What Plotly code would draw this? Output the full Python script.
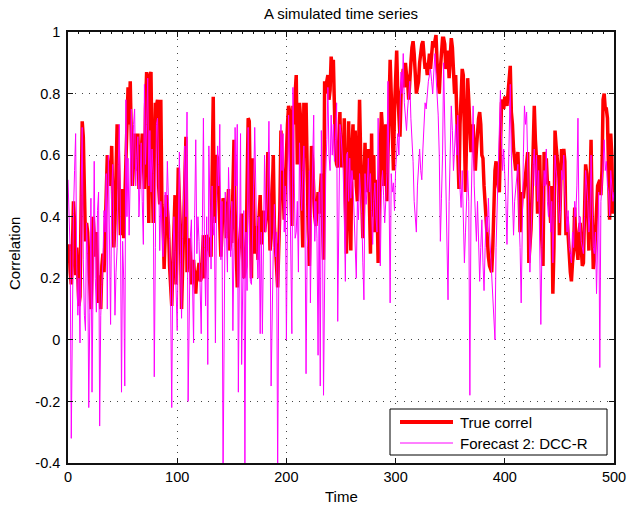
import plotly.graph_objects as go

true_correl = [
0.25,0.31,0.22,0.18,0.28,0.45,0.38,0.21,0.30,0.17,
0.11,0.14,0.55,0.71,0.66,0.40,0.32,0.38,0.35,0.26,
0.17,0.10,0.22,0.40,0.34,0.27,0.35,0.22,0.12,0.21,
0.10,0.24,0.28,0.22,0.36,0.52,0.60,0.55,0.57,0.50,
0.63,0.45,0.30,0.38,0.55,0.70,0.62,0.40,0.34,0.46,
0.49,0.33,0.45,0.62,0.78,0.82,0.70,0.84,0.65,0.50,
0.58,0.67,0.62,0.55,0.67,0.49,0.58,0.60,0.67,0.52,
0.49,0.75,0.87,0.62,0.38,0.86,0.87,0.56,0.38,0.60,
0.77,0.76,0.78,0.50,0.44,0.78,0.44,0.40,0.23,0.34,
0.47,0.42,0.37,0.24,0.16,0.11,0.24,0.38,0.47,0.18,
0.40,0.56,0.45,0.35,0.10,0.22,0.37,0.50,0.66,0.22,
0.30,0.33,0.28,0.18,0.24,0.26,0.20,0.15,0.22,0.22,
0.25,0.19,0.20,0.28,0.34,0.20,0.28,0.34,0.33,0.30,
0.28,0.27,0.55,0.79,0.38,0.50,0.60,0.59,0.50,0.42,
0.27,0.35,0.46,0.45,0.44,0.33,0.40,0.49,0.29,0.32,
0.32,0.48,0.65,0.42,0.30,0.17,0.26,0.32,0.38,0.41,
0.30,0.20,0.22,0.24,0.50,0.72,0.71,0.45,0.20,0.59,
0.45,0.28,0.37,0.30,0.26,0.40,0.47,0.31,0.36,0.42,
0.35,0.38,0.42,0.61,0.45,0.29,0.33,0.45,0.60,0.37,
0.30,0.24,0.17,0.30,0.42,0.68,0.59,0.50,0.39,0.50,
0.63,0.70,0.76,0.74,0.55,0.37,0.76,0.70,0.80,0.86,
0.57,0.62,0.77,0.72,0.45,0.30,0.77,0.65,0.77,0.50,
0.35,0.24,0.45,0.63,0.58,0.44,0.40,0.37,0.42,0.48,
0.41,0.50,0.54,0.40,0.26,0.84,0.80,0.84,0.86,0.78,
0.81,0.92,0.88,0.91,0.67,0.60,0.57,0.56,0.65,0.74,
0.56,0.60,0.56,0.72,0.45,0.28,0.50,0.71,0.44,0.29,
0.62,0.70,0.52,0.68,0.50,0.45,0.60,0.78,0.60,0.48,
0.33,0.50,0.64,0.48,0.58,0.62,0.45,0.28,0.67,0.40,
0.60,0.35,0.52,0.45,0.25,0.48,0.62,0.74,0.68,0.50,
0.65,0.70,0.45,0.60,0.70,0.91,0.80,0.62,0.55,0.75,
0.90,0.94,0.80,0.70,0.66,0.80,0.85,0.88,0.82,0.90,
0.86,0.84,0.78,0.88,0.90,0.95,0.97,0.93,0.86,0.80,
0.82,0.84,0.90,0.94,0.96,0.97,0.92,0.88,0.90,0.86,
0.89,0.93,0.88,0.94,0.97,0.95,0.98,0.99,0.90,0.85,
0.80,0.88,0.93,0.98,0.98,0.96,0.88,0.90,0.94,0.85,
0.92,0.98,0.95,0.86,0.80,0.86,0.70,0.60,0.49,0.70,
0.80,0.88,0.86,0.62,0.48,0.66,0.85,0.78,0.70,0.61,
0.66,0.70,0.61,0.55,0.62,0.68,0.72,0.74,0.70,0.60,
0.59,0.50,0.43,0.38,0.32,0.27,0.24,0.23,0.22,0.30,
0.45,0.55,0.58,0.52,0.50,0.48,0.60,0.77,0.78,0.75,
0.79,0.78,0.76,0.80,0.86,0.89,0.74,0.70,0.62,0.57,
0.55,0.58,0.61,0.50,0.35,0.42,0.48,0.46,0.50,0.55,
0.58,0.61,0.25,0.30,0.36,0.48,0.70,0.76,0.65,0.59,
0.41,0.55,0.60,0.39,0.30,0.24,0.61,0.58,0.59,0.51,
0.51,0.42,0.38,0.50,0.15,0.30,0.68,0.63,0.60,0.55,
0.34,0.48,0.62,0.60,0.62,0.58,0.34,0.40,0.30,0.28,
0.22,0.19,0.25,0.29,0.43,0.32,0.30,0.26,0.35,0.38,
0.30,0.24,0.25,0.45,0.57,0.54,0.40,0.29,0.48,0.65,
0.40,0.23,0.26,0.35,0.46,0.50,0.51,0.52,0.47,0.55,
0.78,0.80,0.75,0.75,0.72,0.55,0.39,0.67,0.60,0.41,
0.45]

forecast_dcc_r = [
0.52,0.35,0.29,-0.32,0.18,0.41,0.55,0.67,0.24,0.08,
0.20,-0.01,0.47,0.69,0.26,0.08,0.03,0.38,0.28,-0.22,
0.09,0.46,-0.17,0.37,0.58,0.20,0.09,0.42,0.48,-0.28,
0.08,0.18,0.26,0.42,0.35,0.54,0.10,0.60,0.30,0.05,
0.48,0.57,0.35,0.08,0.22,0.30,0.57,0.70,0.40,-0.17,
0.32,0.20,-0.15,0.78,0.40,0.59,0.34,0.55,0.75,0.50,
0.70,0.75,0.50,0.59,0.66,0.40,0.58,0.64,0.45,0.31,
0.83,0.57,0.70,0.85,0.50,0.68,0.48,0.62,0.54,-0.12,
0.30,0.70,0.72,0.57,0.29,0.45,0.38,0.27,0.35,0.48,
0.40,0.58,0.45,0.33,0.12,-0.22,0.25,0.40,0.29,0.12,
0.03,0.35,0.61,0.25,0.07,0.33,0.48,0.63,0.40,0.74,
-0.20,0.20,0.33,0.39,0.15,-0.01,0.40,0.65,0.28,0.40,
0.32,0.15,0.02,0.35,0.72,0.30,0.11,0.40,-0.08,0.63,
0.40,0.23,0.50,0.34,0.40,-0.01,0.45,0.63,0.50,0.70,
0.26,0.45,-0.45,0.20,0.48,0.35,0.22,0.56,0.40,0.27,
0.45,0.03,0.30,0.69,0.50,0.70,-0.17,0.26,0.67,-0.08,
0.30,0.42,-0.42,0.35,0.16,0.69,0.40,0.19,0.18,0.30,
0.50,0.69,0.45,0.29,0.20,0.40,0.02,0.35,0.02,0.30,
0.60,0.35,0.44,0.50,0.71,0.40,-0.15,0.16,0.30,0.44,
0.27,0.35,-0.45,0.20,0.37,0.70,0.55,0.67,0.35,0.50,
0.00,0.40,0.73,0.55,0.31,0.02,0.82,0.50,0.33,0.35,
0.45,0.22,0.64,0.50,0.42,0.55,0.63,0.40,-0.11,0.30,
0.36,0.55,0.12,0.40,0.60,0.73,0.32,0.45,0.33,-0.05,
0.48,-0.15,0.68,0.40,-0.18,0.30,0.54,0.65,0.82,0.60,
0.55,0.73,0.60,0.70,0.58,0.65,0.77,0.06,0.50,0.70,
0.67,0.60,0.55,0.40,0.19,0.60,0.61,0.45,0.59,0.46,
0.55,0.51,0.40,0.30,0.20,0.45,0.39,0.54,0.48,0.41,
0.25,0.13,0.54,0.44,0.50,0.59,0.48,0.54,0.42,0.31,
0.45,0.51,0.40,0.35,0.72,0.50,0.24,0.48,0.55,0.47,
0.38,0.45,0.54,0.84,0.40,0.12,0.54,0.48,0.51,0.42,
0.55,0.61,0.67,0.60,0.75,0.87,0.80,0.93,0.77,0.72,
0.68,0.75,0.81,0.84,0.72,0.65,0.58,0.45,0.38,0.35,
0.50,0.59,0.62,0.55,0.52,0.62,0.70,0.77,0.75,0.80,
0.84,0.86,0.88,0.84,0.80,0.87,0.93,0.86,0.80,0.73,
0.60,0.32,0.46,0.60,0.90,0.70,0.50,0.40,0.13,0.45,
0.60,0.76,0.68,0.55,0.62,0.70,0.60,0.73,0.55,0.50,
0.43,0.55,0.40,0.25,0.35,0.48,0.55,0.45,-0.18,0.40,
0.55,0.76,0.50,0.40,0.32,0.45,0.30,0.19,0.30,0.39,
0.25,0.16,0.30,0.40,0.35,0.46,0.35,0.28,0.20,0.15,
0.10,0.00,0.30,0.45,0.60,0.70,0.81,0.65,0.55,0.62,
0.55,0.45,0.31,0.50,0.65,0.83,0.60,0.50,0.34,0.45,
0.50,0.55,0.57,0.40,0.30,0.12,0.40,0.60,0.76,0.70,
0.74,0.50,0.40,0.22,0.35,0.48,0.57,0.62,0.50,0.60,
0.45,0.55,0.35,0.05,0.30,0.40,0.55,0.50,0.62,0.45,
0.40,0.50,0.35,0.45,0.25,0.40,0.60,0.55,0.52,0.45,
0.38,0.42,0.55,0.52,0.60,0.48,0.40,0.35,0.42,0.30,
0.28,0.25,0.35,0.30,0.45,0.40,0.50,0.72,0.35,0.40,
0.32,0.30,0.28,0.40,0.55,0.50,0.45,0.35,0.40,0.60,
0.45,0.30,0.28,0.35,0.15,0.40,0.48,-0.09,0.45,0.50,
0.60,0.65,0.55,0.58,0.50,0.48,0.40,0.55,0.50,0.45,
0.48]

time = list(range(len(true_correl)))

series_names = ["True correl", "Forecast 2: DCC-R"]
x_ticks = [0, 100, 200, 300, 400, 500]
y_ticks = [-0.4, -0.2, 0, 0.2, 0.4, 0.6, 0.8, 1]
y_tick_labels = ["-0.4", "-0.2", "0", "0.2", "0.4", "0.6", "0.8", "1"]

FONT = "Liberation Sans, Arial, sans-serif"
RED = "#ff0000"
MAGENTA = "#ff00ff"

fig = go.Figure()
fig.add_trace(go.Scatter(x=time, y=true_correl, mode="lines", name=series_names[0],
                         line=dict(color=RED, width=3.5), showlegend=False))
fig.add_trace(go.Scatter(x=time, y=forecast_dcc_r[:len(time)], mode="lines",
                         name=series_names[1], line=dict(color=MAGENTA, width=1),
                         showlegend=False))

axis_common = dict(showline=True, linecolor="#111111", linewidth=1.5, mirror="ticks",
                   ticks="inside", ticklen=5, tickcolor="#111111", tickwidth=1,
                   showgrid=True, gridcolor="#444444", griddash="1px,6px", gridwidth=1,
                   zeroline=False, automargin=False,
                   tickfont=dict(family=FONT, size=14.5, color="black"))

fig.update_layout(
    width=627, height=506,
    margin=dict(l=68, r=13, t=32, b=43, autoexpand=False),
    paper_bgcolor="white", plot_bgcolor="white",
    font=dict(family=FONT, size=15, color="black"),
    title=dict(text="A simulated time series", xref="paper", x=0.5, xanchor="center",
               yref="container", y=1 - 14 / 506, yanchor="middle",
               font=dict(family=FONT, size=15)),
    xaxis=dict(range=[0, 500], tickvals=x_ticks, **axis_common),
    yaxis=dict(range=[-0.4, 1], tickvals=y_ticks, ticktext=y_tick_labels,
               ticklabelstandoff=3, **axis_common),
    xaxis2=dict(range=[0, 500], overlaying="x", side="top", showgrid=False,
                showticklabels=False, ticks="inside", dtick=10, ticklen=2,
                tickcolor="#111111", zeroline=False, showline=False, automargin=False),
    showlegend=False,
)
# dummy-free way to activate the top minor-tick axis: attach an invisible copy
fig.add_trace(go.Scatter(x=[time[0], time[-1]], y=[None, None], xaxis="x2",
                         mode="lines", showlegend=False, hoverinfo="skip"))

# axis titles
fig.add_annotation(text="Time", xref="paper", yref="paper", x=0.5, y=-(497 - 463) / 431,
                   xanchor="center", yanchor="middle", showarrow=False,
                   font=dict(family=FONT, size=15))
fig.add_annotation(text="Correlation", xref="paper", yref="paper",
                   x=-(68 - 14) / 546, y=(463 - 254) / 431, textangle=-90,
                   xanchor="center", yanchor="middle", showarrow=False,
                   font=dict(family=FONT, size=15))

# legend box (drawn manually to match sample-line length)
def px_x(p):
    return (p - 68) / 546

def px_y(p):
    return (463 - p) / 431

fig.add_shape(type="rect", xref="paper", yref="paper", layer="above",
              x0=px_x(390), x1=px_x(607), y0=px_y(455), y1=px_y(409),
              fillcolor="white", line=dict(color="black", width=1))
legend_rows = [(422, RED, 4), (443, MAGENTA, 1)]
for name, (yy, col, w) in zip(series_names, legend_rows):
    fig.add_shape(type="line", xref="paper", yref="paper", layer="above",
                  x0=px_x(400), x1=px_x(453), y0=px_y(yy), y1=px_y(yy),
                  line=dict(color=col, width=w))
    fig.add_annotation(text=name, xref="paper", yref="paper", x=px_x(458), y=px_y(yy),
                       xanchor="left", yanchor="middle", showarrow=False,
                       font=dict(family=FONT, size=15))

fig.write_html("out.html")
